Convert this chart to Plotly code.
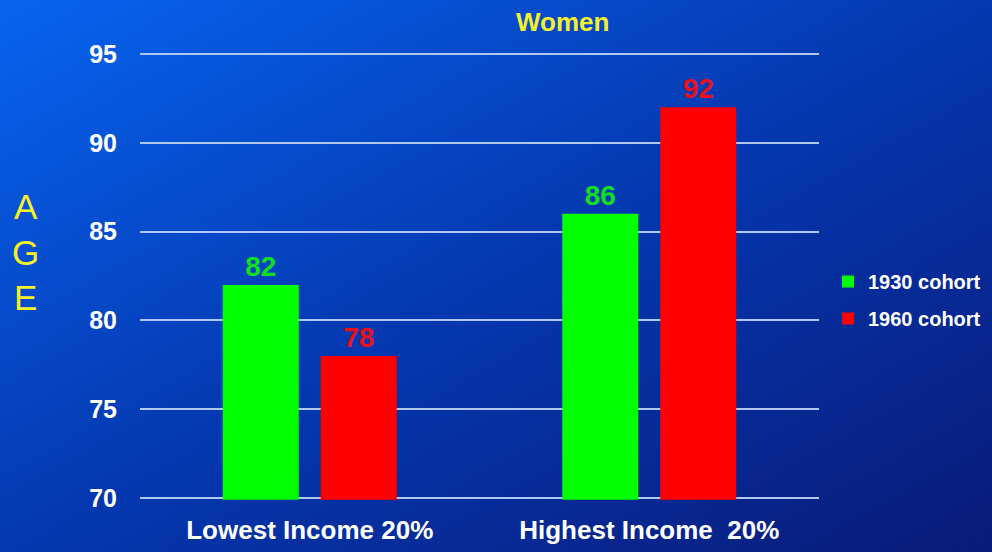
import base64
import plotly.graph_objects as go

categories = ["Lowest Income 20%", "Highest Income  20%"]
cohort_1930 = [82, 86]
cohort_1960 = [78, 92]
y_ticks = [70, 75, 80, 85, 90, 95]

W, H = 992, 552
# plot area in pixels (left, right, top, bottom), padded slightly past 70..95
X0, X1, Y0, Y1 = 140, 819, 52.2, 499.8

font = "Liberation Sans, Arial, sans-serif"

# gradient background as an svg image
svg = (
    "<svg xmlns='http://www.w3.org/2000/svg' width='992' height='552' preserveAspectRatio='none'>"
    "<defs><linearGradient id='g' x1='0' y1='0' x2='1' y2='1'>"
    "<stop offset='0' stop-color='#0864f0'/>"
    "<stop offset='0.5' stop-color='#0438b0'/>"
    "<stop offset='1' stop-color='#0a1a78'/>"
    "</linearGradient></defs>"
    "<rect width='100%' height='100%' fill='url(#g)'/></svg>"
)
bg = "data:image/svg+xml;base64," + base64.b64encode(svg.encode()).decode()


def px(x):
    return x / W


def py(y):
    return 1 - y / H


fig = go.Figure()
fig.add_trace(go.Bar(
    name="1930 cohort", x=categories, y=cohort_1930, legendgroup="a",
    marker=dict(color="#00ff00", line=dict(width=0)),
    text=cohort_1930, textposition="outside", cliponaxis=False,
    textfont=dict(color="#10e020", size=28, family=font, weight="bold"),
))
fig.add_trace(go.Bar(
    name="1960 cohort", x=categories, y=cohort_1960, legendgroup="b",
    marker=dict(color="#ff0000", line=dict(width=0)),
    text=cohort_1960, textposition="outside", cliponaxis=False,
    textfont=dict(color="#e8101a", size=28, family=font, weight="bold"),
))

fig.update_layout(
    width=W, height=H,
    margin=dict(l=0, r=0, t=0, b=0, autoexpand=False),
    paper_bgcolor="#0438b0",
    plot_bgcolor="rgba(0,0,0,0)",
    barmode="group", bargap=0.423, bargroupgap=0.224,
    showlegend=True,
    legend=dict(
        x=px(986), y=py(300), xanchor="right", yanchor="middle",
        font=dict(color="white", size=20, family=font, weight="bold"),
        bgcolor="rgba(0,0,0,0)", tracegroupgap=8, traceorder="grouped",
    ),
    images=[dict(
        source=bg, xref="paper", yref="paper",
        x=0, y=1, sizex=1, sizey=1,
        xanchor="left", yanchor="top", sizing="stretch", layer="below",
    )],
    annotations=[
        dict(text="<b>Women</b>", xref="paper", yref="paper",
             x=px(562), y=py(22), showarrow=False,
             xanchor="center", yanchor="middle",
             font=dict(color="#f5f02a", size=26, family=font)),
        dict(text="A<br>G<br>E", xref="paper", yref="paper",
             x=px(25), y=py(252), showarrow=False,
             xanchor="center", yanchor="middle",
             font=dict(color="#f5f02a", size=35, family=font)),
    ],
)

fig.update_xaxes(
    domain=[px(X0), px(X1)], automargin=False,
    showgrid=False, showline=False, zeroline=False,
    tickfont=dict(color="white", size=26, family=font, weight="bold"),
    ticklabelstandoff=12,
)
fig.update_yaxes(
    domain=[py(Y1), py(Y0)], automargin=False,
    range=[69.9, 95.1], tickvals=y_ticks,
    showgrid=True, gridcolor="#b0c8f0", gridwidth=1.5,
    zeroline=False, showline=False,
    tickfont=dict(color="white", size=25, family=font, weight="bold"),
    ticklabelstandoff=22,
)

fig.write_html(
    "out.html",
    config={"displayModeBar": False},
    post_script="document.body.style.margin='0';document.body.style.overflow='hidden';",
)
